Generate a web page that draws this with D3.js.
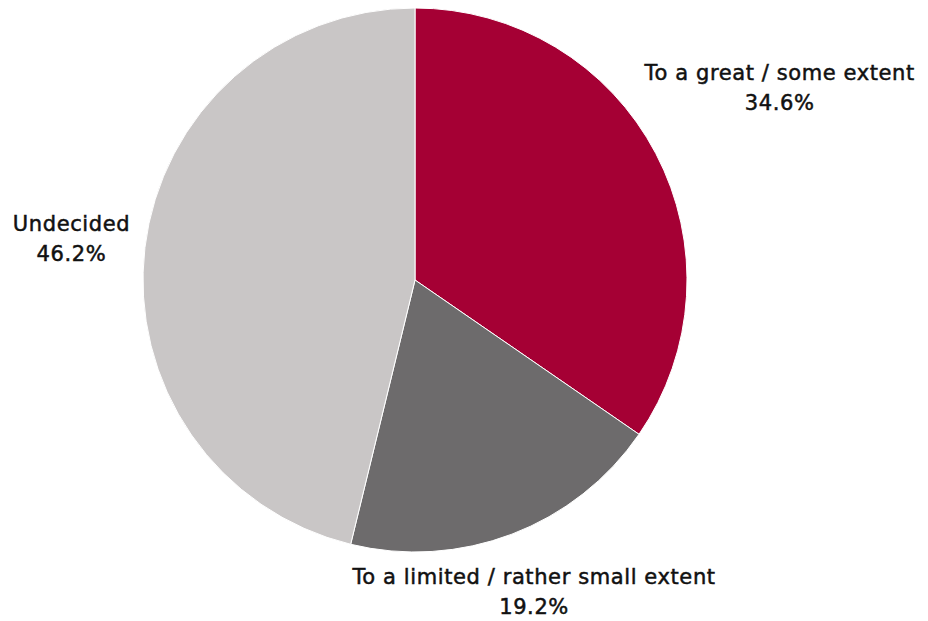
<!DOCTYPE html>
<html>
<head>
<meta charset="utf-8">
<script src="https://cdn.jsdelivr.net/npm/d3@7"></script>
<style>
  html, body { margin: 0; padding: 0; background: #fff; }
  svg { display: block; }
</style>
</head>
<body>
<svg id="chart" width="928" height="621"></svg>
<script>
// Survey answer shares, in percent
const categories = ["To a great / some extent", "To a limited / rather small extent", "Undecided"];
const values = [34.6, 19.2, 46.2];
const colors = ["#A50034", "#6D6B6C", "#C9C6C6"];
// Distance from the centre at which each label is placed
const labelRadius = [412, 334, 346];

const width = 928, height = 621;
const cx = 415, cy = 280, radius = 272;

const svg = d3.select("#chart");
const g = svg.append("g").attr("transform", `translate(${cx},${cy})`);

const pie = d3.pie().sort(null).value(d => d.value);
const arcs = pie(categories.map((c, i) => ({ name: c, value: values[i], i })));

const arc = d3.arc().innerRadius(0).outerRadius(radius);

g.selectAll("path.slice")
  .data(arcs)
  .join("path")
  .attr("class", "slice")
  .attr("d", arc)
  .attr("fill", d => colors[d.data.i])
  .attr("stroke", "#ffffff")
  .attr("stroke-width", 1)
  .attr("stroke-linejoin", "round");

const fmt = v => v.toFixed(1) + "%";

const labels = g.selectAll("g.label")
  .data(arcs)
  .join("g")
  .attr("class", "label")
  .attr("transform", d => {
    const a = (d.startAngle + d.endAngle) / 2;
    const r = labelRadius[d.data.i];
    return `translate(${r * Math.sin(a)},${-r * Math.cos(a)})`;
  });

labels.append("text")
  .attr("text-anchor", "middle")
  .attr("font-family", "'DejaVu Sans', sans-serif")
  .attr("font-size", 21)
  .attr("letter-spacing", 0.6)
  .attr("fill", "#111")
  .attr("stroke", "#111")
  .attr("stroke-width", 0.5)
  .selectAll("tspan")
  .data(d => [d.data.name, fmt(d.data.value)])
  .join("tspan")
  .attr("x", 0)
  .attr("y", (t, j) => j === 0 ? -8 : 22)
  .text(t => t);
</script>
</body>
</html>
